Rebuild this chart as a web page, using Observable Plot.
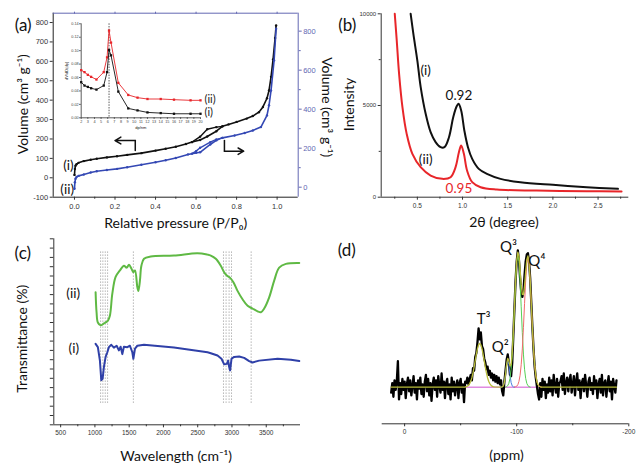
<!DOCTYPE html>
<html><head><meta charset="utf-8">
<script src="https://cdn.jsdelivr.net/npm/d3@7"></script>
<script src="https://cdn.jsdelivr.net/npm/@observablehq/plot@0.6"></script>
<style>
body{margin:0;background:#fff;}
#fig{position:relative;width:638px;height:464px;background:#fff;overflow:hidden;}
</style></head><body><div id="fig"></div>
<script>
// ================= DATA =================
// (a) N2 isotherms. (i) left axis, (ii) right axis
const aAdsP_i = [0,0.002,0.005,0.01,0.02,0.046,0.08,0.11,0.16,0.21,0.26,0.33,0.4,0.45,0.5,0.55,0.58,0.62,0.655,0.7,0.73,0.76,0.8,0.85,0.88,0.91,0.93,0.95,0.96,0.97,0.98,0.99,0.995];
const aAdsV_i = [15,45,62,70,77,86,93,98,105,111,118,127,140,150,160,174,184,195,213,240,265,275,288,305,318,338,365,410,450,520,610,720,785];
const aDesP_i = [0.73,0.7,0.655,0.62,0.58];
const aDesV_i = [265,261,250,212,184];
const aAdsP_ii = [0,0.002,0.005,0.01,0.02,0.046,0.08,0.11,0.16,0.21,0.26,0.33,0.4,0.45,0.5,0.56,0.6,0.62,0.67,0.7,0.73,0.79,0.84,0.88,0.92,0.95,0.96,0.97,0.985,0.995];
const aAdsV_ii = [-8,25,43,52,58,65,75,82,88,94,102,115,128,138,150,168,176,179,219,240,253,265,278,291,308,368,420,496,650,812];
const aDesP_ii = [0.73,0.7,0.67,0.62,0.6,0.58];
const aDesV_ii = [253,245,231,202,185,172];
const aLeftTicks = [-100,0,100,200,300,400,500,600,700,800];
const aRightTicks = [0,200,400,600,800];
const aRightMinor = [100,300,500,700];
const aXTicks = [0,0.2,0.4,0.6,0.8,1.0];
const aXMinor = [0.1,0.3,0.5,0.7,0.9];
const aLabels = [{x:-0.03,y:63,t:"(i)"},{x:-0.036,y:-62,t:"(ii)"}];
const aArrowL = [{x:0.30,y:141},{x:0.30,y:192}];
const aArrowLHead = [{x1:0.30,y1:192,x2:0.20,y2:192}];
const aArrowR = [{x:0.74,y:192},{x:0.74,y:137}];
const aArrowRHead = [{x1:0.74,y1:137,x2:0.835,y2:137}];
// (a) inset: pore size distribution
const inDp = [2,2.5,3,3.5,4.3,5.4,5.9,6.2,6.5,7.6,9.1,10.5,12,14,16,18.5,20];
const inV_ii = [0.071,0.068,0.064,0.061,0.057,0.068,0.09,0.13,0.112,0.052,0.034,0.030,0.028,0.028,0.027,0.026,0.026];
const inV_i = [0.053,0.048,0.046,0.044,0.042,0.048,0.068,0.101,0.093,0.039,0.014,0.011,0.008,0.007,0.006,0.006,0.006];
const inXTicks = [2,3,4,5,6,7,8,9,10,11,12,13,14,15,16,17,18,19,20];
const inYTicks = [0,0.02,0.04,0.06,0.08,0.10,0.12,0.14];
const inPeak = [6.2];
const inLabels = [{x:20.6,y:0.028,t:"(ii)"},{x:20.6,y:0.008,t:"(i)"}];

// (b) XRD
const bX_i = [0.426,0.456,0.5,0.537,0.592,0.647,0.702,0.757,0.8,0.85,0.897,0.934,0.956,0.985,1.02,1.06,1.107,1.18,1.27,1.42,1.64,2.0,2.375,2.72];
const bY_i = [10000,8900,7450,6000,4545,3545,3000,2727,2727,3270,4360,4945,5090,4727,3636,2727,2090,1545,1270,1000,818,673,545,455];
const bX_ii = [0.25,0.272,0.298,0.335,0.382,0.445,0.537,0.647,0.776,0.868,0.923,0.96,0.985,1.015,1.05,1.107,1.2,1.38,1.82,2.375,2.76];
const bY_ii = [10000,8545,6727,4909,3454,2363,1636,1181,1000,1090,1636,2454,2818,2363,1454,818,545,418,363,327,309];
const bXTicks = [0.5,1.0,1.5,2.0,2.5];
const bXMinor = [0.25,0.75,1.25,1.75,2.25,2.75];
const bYTicks = [0,5000,10000];
const bYMinor = [2500,7500];
const bLabelsBlack = [{x:0.592,y:6909,t:"(i)"},{x:0.592,y:2036,t:"(ii)"},{x:0.96,y:5509,t:"0.92"}];
const bLabelsRed = [{x:0.96,y:455,t:"0.95"}];

// (c) FTIR
const cW_ii = [1010,1024,1043,1083,1131,1190,1219,1254,1302,1365,1423,1463,1497,1532,1561,1585,1619,1634,1657,1678,1716,1814,2154,2496,2643,2691,2764,2837,2886,2925,2973,3023,3081,3154,3228,3300,3374,3422,3470,3543,3616,3689,3787,3982];
const cT_ii = [14.26,12.1,11.0,10.7,10.9,11.2,11.75,14.1,15.9,16.6,17.1,16.9,17.2,16.8,16.4,16.6,14.8,14.4,15.5,17.1,17.85,18.1,18.2,18.45,18.3,18.2,17.85,17.1,16.4,16.05,15.8,15.3,14.4,13.5,12.8,12.5,12.2,12.1,12.5,13.7,15.5,16.9,17.3,17.4];
const cW_i = [1010,1043,1073,1093,1112,1131,1156,1181,1204,1239,1277,1317,1350,1375,1400,1423,1473,1511,1546,1561,1585,1619,1716,2154,2643,2691,2789,2847,2886,2925,2944,2958,2973,2993,3032,3105,3178,3251,3300,3397,3666,3860,3982];
const cT_i = [8.7,8.35,6.9,4.8,4.95,6.2,7.3,7.8,8.35,8.6,8.3,8.5,8.0,8.4,7.6,8.4,8.35,8.5,7.8,7.1,8.2,8.5,8.6,8.3,7.8,7.7,7.45,7.1,6.5,6.55,6.9,6.25,5.85,7.1,7.3,7.35,7.2,6.85,6.7,6.9,7.1,7.0,6.85];
const cGuides = [1083,1116,1151,1185,1561,2876,2914,2958,2993,3280];
const cXTicks = [500,1000,1500,2000,2500,3000,3500];
const cXMinor = [750,1250,1750,2250,2750,3250,3750];
const cYTicks = [0,1,2,3,4,5,6,7,8,9,10,11,12,13,14,15,16,17,18,19,20];
const cLabels = [{x:683,y:14.1,t:"(ii)"},{x:692,y:8.2,t:"(i)"}];

// (d) 29Si NMR: measured spectrum, 1 ppm steps from 12 to -189 ppm
const dStart = 12;
const dSignal = [
 -4,3,-7,5,-2,4,19,-9,3,-5,
 6,-2,4,-8,2,7,-3,5,-6,1,
 8,-4,3,-9,5,-1,7,-5,2,-7,
 4,9,-3,6,-6,3,-10,2,7,-2,
 5,-7,8,1,-4,10,-2,4,-8,3,
 6,-5,2,-9,7,-3,4,-6,1,5,
 -8,3,6,-4,2,-11,4,3,7,2,
 6,9,5,14,12,22,25,33,43,35,
 40,30,28,21,18,13,15,9,12,7,
 10,5,9,4,8,3,7,2,5,-3,
 -6,4,12,20,24,18,9,8,18,38,
 58,78,92,100,93,80,70,66,70,82,
 92,97,98,92,80,62,44,28,15,7,
 1,-5,-9,3,-7,6,-2,4,-8,2,
 -4,7,-3,5,-6,9,1,-4,6,-7,
 3,4,8,-2,10,-5,3,7,-3,5,
 9,-4,2,8,-6,4,10,-2,5,-8,
 3,6,-3,9,1,-7,4,7,-2,3,
 -5,8,-1,5,-8,2,6,-4,9,-6,
 3,5,-7,2,8,-3,4,-9,6,1,
 -4,5];
const dFitPpm = [12,-54,-55,-56,-57,-58,-59,-60,-61,-62,-63,-64,-65,-66,-67,-68,-69,-70,-71,-72,-73,-74,-75,-76,-77,-78,-79,-80,-86,-87,-88,-89,-90,-91,-92,-93,-94,-95,-96,-97,-98,-99,-100,-101,-102,-103,-104,-105,-106,-107,-108,-109,-110,-111,-112,-113,-114,-115,-116,-117,-118,-119,-120,-121,-122,-123,-189];
const dFitVal = [0,0,0.4,0.7,1.4,2.6,4.3,6.9,10.4,14.7,19.4,24.2,28.2,31.0,32.0,31.0,28.2,24.2,19.4,14.7,10.4,6.9,4.3,2.6,1.4,0.7,0.4,0.2,0,0.15,0.9,3.4,9.3,16.9,21.1,19.3,15.6,16.5,25.1,40.1,58.9,78.0,92.5,98.8,96.0,86.4,75.2,67.9,67.7,74.3,84.5,93.3,96.1,90.9,78.2,61.2,43.5,28.0,16.4,8.7,4.2,1.8,0.7,0.3,0.1,0,0];
const dQ2Ppm = [-86,-87,-88,-89,-90,-91,-92,-93,-94,-95,-96,-97,-98];
const dQ2Val = [0,0.15,0.9,3.4,9.2,16.5,20,16.5,9.2,3.4,0.9,0.15,0];
const dQ3Ppm = [-90,-91,-92,-93,-94,-95,-96,-97,-98,-99,-100,-101,-102,-103,-104,-105,-106,-107,-108,-109,-110,-111,-112];
const dQ3Val = [0.1,0.4,1.1,2.8,6.4,13.1,24.2,39.9,58.8,77.7,91.8,97,91.8,77.7,58.8,39.9,24.2,13.1,6.4,2.8,1.1,0.4,0.1];
const dQ4Ppm = [-98,-99,-100,-101,-102,-103,-104,-105,-106,-107,-108,-109,-110,-111,-112,-113,-114,-115,-116,-117,-118,-119,-120,-121,-122];
const dQ4Val = [0.1,0.3,0.7,1.8,4.2,8.7,16.4,28.0,43.5,61.2,78.1,90.5,95,90.5,78.1,61.2,43.5,28.0,16.4,8.7,4.2,1.8,0.7,0.3,0.1];
const dBasePpm = [-52,-120];
const dXTicks = [0,-100,-200];
const dXMinor = [-50,-150];
const dLabels = [{x:-70.5,y:50,t:"T³"},{x:-85.3,y:29.3,t:"Q²"},{x:-92.7,y:102.4,t:"Q³"},{x:-118,y:92.2,t:"Q⁴"}];

// ================= DRAW =================
const fig = document.getElementById("fig");
const LF = "Lato, 'Open Sans', sans-serif";
const TF = "'Liberation Sans', Arial, sans-serif";
const zip = (xs, ys) => xs.map((x, i) => ({x, y: ys[i]}));
const baseStyle = {background: "transparent", overflow: "visible", fontFamily: TF};
function place(el, left, top) {
  el.style.position = "absolute";
  el.style.left = left + "px";
  el.style.top = top + "px";
  fig.appendChild(el);
}
const blueAxis = "#6368b3";
const blueLine = "#3448b4";
const red = "#e8262a";
const green = "#5fb944";
const lbl = (t, o) => Plot.text([t], {text: d => d, fontFamily: LF, fill: "#111", textAnchor: "middle", lineAnchor: "middle", ...o});

// ---- (a) left / black ----
const aXd = [-0.105, 1.104];
place(Plot.plot({
  width: 340, height: 232, marginLeft: 52.7, marginTop: 12.7, marginRight: 42.3, marginBottom: 35.3,
  style: baseStyle,
  x: {domain: aXd, axis: null, label: null},
  y: {domain: [-100, 848], axis: null, label: null},
  marks: [
    Plot.ruleX([aXd[0]], {stroke: "#222"}),
    Plot.ruleY([-100], {stroke: "#222"}),
    Plot.axisY(aLeftTicks, {anchor: "left", tickSize: 3, tickPadding: 2, fontSize: 7.5, tickFormat: d => String(d), label: null, color: "#333"}),
    Plot.axisX(aXTicks, {anchor: "bottom", tickSize: 3, tickPadding: 3, fontSize: 7.5, tickFormat: d3.format(".1f"), label: null, color: "#333"}),
    Plot.axisX(aXMinor, {anchor: "bottom", tickSize: 2, tickFormat: () => "", label: null, color: "#333"}),
    Plot.line(zip(aAdsP_i, aAdsV_i), {x: "x", y: "y", stroke: "#111", strokeWidth: 1.6}),
    Plot.line(zip(aDesP_i, aDesV_i), {x: "x", y: "y", stroke: "#111", strokeWidth: 1.4}),
    Plot.dot(zip(aAdsP_i, aAdsV_i).concat(zip(aDesP_i, aDesV_i)), {x: "x", y: "y", r: 1.2, fill: "#111"}),
    Plot.line(aArrowL, {x: "x", y: "y", stroke: "#111", strokeWidth: 1.5}),
    Plot.arrow(aArrowLHead, {x1: "x1", y1: "y1", x2: "x2", y2: "y2", stroke: "#111", strokeWidth: 1.5, headLength: 8}),
    Plot.line(aArrowR, {x: "x", y: "y", stroke: "#111", strokeWidth: 1.5}),
    Plot.arrow(aArrowRHead, {x1: "x1", y1: "y1", x2: "x2", y2: "y2", stroke: "#111", strokeWidth: 1.5, headLength: 8}),
    Plot.text(aLabels, {x: "x", y: "y", text: "t", fontSize: 13.5, fontFamily: LF, fill: "#111"}),
    lbl("(a)", {frameAnchor: "top-left", dx: -30, dy: 12, fontSize: 17}),
    lbl("Volume (cm³ g⁻¹)", {frameAnchor: "left", dx: -30, dy: -1, rotate: -90, fontSize: 14}),
    lbl("Relative pressure (P/P₀)", {frameAnchor: "bottom", dx: 0, dy: 26.5, fontSize: 14}),
    lbl("Volume (cm³ g⁻¹)", {frameAnchor: "right", dx: 28.5, dy: 2, rotate: 90, fontSize: 14})
  ]
}), 0, 0);

// ---- (a) right / blue ----
place(Plot.plot({
  width: 340, height: 232, marginLeft: 52.7, marginTop: 12.7, marginRight: 42.3, marginBottom: 35.3,
  style: baseStyle,
  x: {domain: aXd, axis: null, label: null},
  y: {domain: [-51.3, 892], axis: null, label: null},
  marks: [
    Plot.ruleX([aXd[1]], {stroke: blueAxis}),
    Plot.ruleY([892], {stroke: blueAxis}),
    Plot.axisY(aRightTicks, {anchor: "right", tickSize: 3, tickPadding: 2, fontSize: 7.5, tickFormat: d => String(d), label: null, color: blueAxis}),
    Plot.axisY(aRightMinor, {anchor: "right", tickSize: 2, tickFormat: () => "", label: null, color: blueAxis}),
    Plot.axisX(aXTicks, {anchor: "top", tickSize: 2, tickFormat: () => "", label: null, color: blueAxis}),
    Plot.line(zip(aAdsP_ii, aAdsV_ii), {x: "x", y: "y", stroke: blueLine, strokeWidth: 1.6}),
    Plot.line(zip(aDesP_ii, aDesV_ii), {x: "x", y: "y", stroke: blueLine, strokeWidth: 1.4}),
    Plot.dot(zip(aAdsP_ii, aAdsV_ii).concat(zip(aDesP_ii, aDesV_ii)), {x: "x", y: "y", r: 1.2, fill: blueLine})
  ]
}), 0, 0);

// ---- (a) inset ----
place(Plot.plot({
  width: 170, height: 118, marginLeft: 22.7, marginTop: 11.3, marginRight: 28, marginBottom: 12.7,
  style: baseStyle,
  x: {domain: [2, 20], axis: null, label: null},
  y: {domain: [0, 0.14], axis: null, label: null},
  marks: [
    Plot.ruleX([2], {stroke: "#333", strokeWidth: 0.8}),
    Plot.ruleY([0], {stroke: "#333", strokeWidth: 0.8}),
    Plot.axisX(inXTicks, {anchor: "bottom", tickSize: 1.5, tickPadding: 0.5, fontSize: 3.8, label: null, color: "#444"}),
    Plot.axisY(inYTicks, {anchor: "left", tickSize: 1.5, tickPadding: 1, fontSize: 3.8, tickFormat: d3.format(".2f"), label: null, color: "#444"}),
    Plot.ruleX(inPeak, {stroke: "#333", strokeDasharray: "1.5,1.2", strokeWidth: 0.8}),
    Plot.line(zip(inDp, inV_ii), {x: "x", y: "y", stroke: red, strokeWidth: 0.9}),
    Plot.dot(zip(inDp, inV_ii), {x: "x", y: "y", symbol: "square", r: 1.3, fill: red}),
    Plot.line(zip(inDp, inV_i), {x: "x", y: "y", stroke: "#111", strokeWidth: 0.9}),
    Plot.dot(zip(inDp, inV_i), {x: "x", y: "y", symbol: "square", r: 1.3, fill: "#111"}),
    Plot.text(inLabels, {x: "x", y: "y", text: "t", textAnchor: "start", fontSize: 11, fontFamily: LF, fill: "#222"}),
    lbl("dV/dD(dp)", {frameAnchor: "left", dx: -14, rotate: -90, fontSize: 4, fontFamily: TF}),
    lbl("dp/nm", {frameAnchor: "bottom", dy: 9.5, fontSize: 4, fontFamily: TF})
  ]
}), 58, 12);

// ---- (b) ----
place(Plot.plot({
  width: 318, height: 232, marginLeft: 60.7, marginTop: 13.3, marginRight: 9.7, marginBottom: 35.3,
  style: baseStyle,
  x: {domain: [0.1, 2.84], axis: null, label: null},
  y: {domain: [0, 10000], axis: null, label: null},
  marks: [
    Plot.ruleX([0.1], {stroke: "#333"}),
    Plot.ruleY([0], {stroke: "#333"}),
    Plot.axisY(bYTicks, {anchor: "left", tickSize: 3, tickPadding: 2, fontSize: 6, tickFormat: d => String(d), label: null, color: "#333"}),
    Plot.axisY(bYMinor, {anchor: "left", tickSize: 2, tickFormat: () => "", label: null, color: "#333"}),
    Plot.axisX(bXTicks, {anchor: "bottom", tickSize: 3, tickPadding: 3, fontSize: 6.5, tickFormat: d3.format(".1f"), label: null, color: "#333"}),
    Plot.axisX(bXMinor, {anchor: "bottom", tickSize: 2, tickFormat: () => "", label: null, color: "#333"}),
    Plot.line(zip(bX_ii, bY_ii), {x: "x", y: "y", stroke: red, strokeWidth: 2, curve: "catmull-rom"}),
    Plot.line(zip(bX_i, bY_i), {x: "x", y: "y", stroke: "#111", strokeWidth: 2, curve: "catmull-rom"}),
    Plot.text(bLabelsBlack, {x: "x", y: "y", text: "t", fontSize: 13.5, fontFamily: LF, fill: "#111"}),
    Plot.text(bLabelsRed, {x: "x", y: "y", text: "t", fontSize: 13.5, fontFamily: LF, fill: red}),
    lbl("(b)", {frameAnchor: "top-left", dx: -34, dy: 12, fontSize: 17}),
    lbl("Intensity", {frameAnchor: "left", dx: -31.5, dy: -1, rotate: -90, fontSize: 14}),
    lbl("2θ (degree)", {frameAnchor: "bottom", dx: -1, dy: 25, fontSize: 14})
  ]
}), 320, 0);

// ---- (c) ----
place(Plot.plot({
  width: 330, height: 232, marginLeft: 53.3, marginTop: 6.3, marginRight: 30, marginBottom: 39.7,
  style: baseStyle,
  x: {domain: [400, 4000], axis: null, label: null},
  y: {domain: [0, 20], axis: null, label: null},
  marks: [
    Plot.ruleX([400], {stroke: "#333"}),
    Plot.ruleY([0], {stroke: "#333"}),
    Plot.axisY(cYTicks, {anchor: "left", tickSize: 3.5, tickFormat: () => "", label: null, color: "#333"}),
    Plot.axisX(cXTicks, {anchor: "bottom", tickSize: 3, tickPadding: 3, fontSize: 6.5, tickFormat: d => String(d), label: null, color: "#333"}),
    Plot.axisX(cXMinor, {anchor: "bottom", tickSize: 2, tickFormat: () => "", label: null, color: "#333"}),
    Plot.ruleX(cGuides, {x: d => d, y1: 2.3, y2: 18.6, stroke: "#b5b5b5", strokeDasharray: "1.5,1.5", strokeWidth: 1}),
    Plot.line(zip(cW_ii, cT_ii), {x: "x", y: "y", stroke: green, strokeWidth: 2, curve: "catmull-rom"}),
    Plot.line(zip(cW_i, cT_i), {x: "x", y: "y", stroke: "#2f40a8", strokeWidth: 2, curve: "linear"}),
    Plot.text(cLabels, {x: "x", y: "y", text: "t", fontSize: 13.5, fontFamily: LF, fill: "#111"}),
    lbl("(c)", {frameAnchor: "top-left", dx: -31, dy: 15, fontSize: 17}),
    lbl("Transmittance (%)", {frameAnchor: "left", dx: -31.5, dy: 7, rotate: -90, fontSize: 14}),
    lbl("Wavelength (cm⁻¹)", {frameAnchor: "bottom", dx: -1, dy: 31.5, fontSize: 14})
  ]
}), 0, 232);

// ---- (d) ----
const dData = dSignal.map((v, i) => ({x: dStart - i, y: v}));
place(Plot.plot({
  width: 318, height: 232, marginLeft: 61.7, marginTop: 8, marginRight: 9.7, marginBottom: 40.7,
  style: baseStyle,
  x: {domain: [20, -200], axis: null, label: null},
  y: {domain: [-26.8, 107.3], axis: null, label: null},
  marks: [
    Plot.ruleY([-26.8], {stroke: "#333"}),
    Plot.axisX(dXTicks, {anchor: "bottom", tickSize: 3, tickPadding: 3, fontSize: 6.5, tickFormat: d => String(d), label: null, color: "#333"}),
    Plot.axisX(dXMinor, {anchor: "bottom", tickSize: 2, tickFormat: () => "", label: null, color: "#333"}),
    Plot.line(dBasePpm.map(p => ({x: p, y: 0})), {x: "x", y: "y", stroke: "#d050d0", strokeWidth: 1}),
    Plot.line(dData, {x: "x", y: "y", stroke: "#000", strokeWidth: 2.3}),
    Plot.line(zip(dQ2Ppm, dQ2Val), {x: "x", y: "y", stroke: "#4a7fe0", strokeWidth: 1}),
    Plot.line(zip(dQ3Ppm, dQ3Val), {x: "x", y: "y", stroke: "#55d055", strokeWidth: 1}),
    Plot.line(zip(dQ4Ppm, dQ4Val), {x: "x", y: "y", stroke: "#f06a6a", strokeWidth: 1}),
    Plot.line(zip(dFitPpm, dFitVal), {x: "x", y: "y", stroke: "#b9bd3a", strokeWidth: 1.3}),
    Plot.text(dLabels, {x: "x", y: "y", text: "t", fontSize: 15, fontFamily: LF, fill: "#111"}),
    lbl("(d)", {frameAnchor: "top-left", dx: -35.5, dy: 10, fontSize: 17}),
    lbl("(ppm)", {frameAnchor: "bottom", dx: 1, dy: 31.5, fontSize: 14})
  ]
}), 320, 232);
</script></body></html>
